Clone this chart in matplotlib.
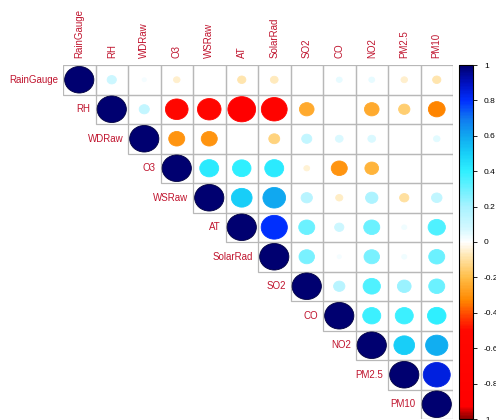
"""
Correlation plot (upper triangle, circles) in the style of R corrplot.
"""

import matplotlib
matplotlib.use('Agg')
import matplotlib.pyplot as plt
from matplotlib.patches import Ellipse, Rectangle
from matplotlib.colors import LinearSegmentedColormap, Normalize
from matplotlib.colorbar import ColorbarBase

variables = ['RainGauge', 'RH', 'WDRaw', 'O3', 'WSRaw', 'AT', 'SolarRad',
             'SO2', 'CO', 'NO2', 'PM2.5', 'PM10']

# each row starts at the diagonal
corr_rows = [
    [1, 0.10, 0.02, -0.05, 0.0, -0.08, -0.07, 0.0, 0.04, 0.04, -0.05, -0.08],
    [1, 0.12, -0.60, -0.65, -0.90, -0.78, -0.25, 0.0, -0.25, -0.15, -0.33],
    [1, -0.30, -0.30, 0.0, -0.14, 0.12, 0.07, 0.07, 0.0, 0.05],
    [1, 0.42, 0.40, 0.42, -0.04, -0.30, -0.22, 0.0, 0.0],
    [1, 0.50, 0.60, 0.15, -0.06, 0.18, -0.10, 0.13],
    [1, 0.80, 0.30, 0.10, 0.30, 0.03, 0.35],
    [1, 0.28, 0.02, 0.28, 0.03, 0.30],
    [1, 0.15, 0.35, 0.22, 0.30],
    [1, 0.38, 0.38, 0.40],
    [1, 0.50, 0.58],
    [1, 0.85],
    [1],
]

cbar_ticks = [1, 0.8, 0.6, 0.4, 0.2, 0, -0.2, -0.4, -0.6, -0.8, -1]

# palette
anchors = [
    (-1.0, '#8B0000'), (-0.93, '#FF0000'), (-0.5, '#FF0800'),
    (-0.42, '#FF4000'), (-0.33, '#FF8800'), (-0.2, '#FFBE48'), (-0.08, '#FFE6B0'),
    (0.0, '#FFFFFF'), (0.08, '#D2F8FF'), (0.2, '#A8F2FF'), (0.4, '#30F0FF'),
    (0.5, '#18D0F8'), (0.6, '#10A8F0'), (0.7, '#1078F0'), (0.8, '#0030FF'),
    (0.9, '#0010C0'), (1.0, '#000070'),
]
cmap = LinearSegmentedColormap.from_list(
    'corr', [((v + 1) / 2, c) for v, c in anchors])
norm = Normalize(-1, 1)

label_col = '#C0152F'
n = len(variables)

fig = plt.figure(figsize=(4.96, 4.2), dpi=100)
ax = fig.add_axes([63 / 496, 1 / 420, 390 / 496, 354 / 420])
ax.set_xlim(0, n)
ax.set_ylim(n, 0)
ax.axis('off')

for i, row in enumerate(corr_rows):
    for k, r in enumerate(row):
        j = i + k
        ax.add_patch(Rectangle((j, i), 1, 1, fill=False,
                               edgecolor='#B8B8B8', lw=0.9))
        d = 0.9 * abs(r) ** 0.5
        if d > 0:
            col = cmap(norm(r))
            edge = '#000040' if r == 1 else col
            ax.add_patch(Ellipse((j + 0.5, i + 0.5), d, d, facecolor=col,
                                 edgecolor=edge, lw=0.6))

for i, name in enumerate(variables):
    ax.text(i - 0.15, i + 0.5, name, ha='right', va='center',
            fontsize=7, color=label_col, family='Liberation Sans')
    ax.text(i + 0.5, -0.25, name, ha='center', va='bottom', rotation=90,
            fontsize=7, color=label_col, family='Liberation Sans')

cax = fig.add_axes([459 / 496, 1 / 420, 14 / 496, 354 / 420])
cb = ColorbarBase(cax, cmap=cmap, norm=norm, ticks=cbar_ticks)
cb.outline.set_linewidth(0.8)
cb.ax.set_yticklabels(['%g' % t for t in cbar_ticks])
cb.ax.tick_params(labelsize=6, length=3, width=0.6, pad=5)
for t in cb.ax.get_yticklabels():
    t.set_family('Liberation Sans')

fig.savefig('out.png', dpi=100)
